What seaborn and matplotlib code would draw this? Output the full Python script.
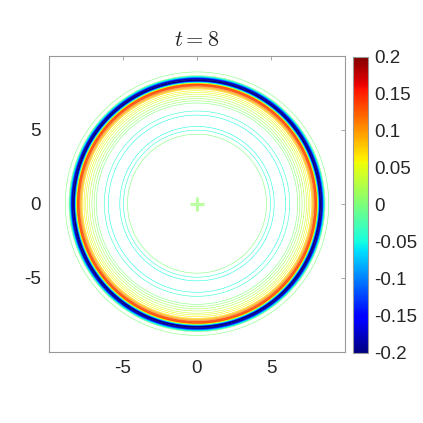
import numpy as np
import matplotlib
matplotlib.use("Agg")
import matplotlib.pyplot as plt
import matplotlib.colors as mcolors
from matplotlib.ticker import FuncFormatter
import seaborn as sns

# ==================================================
# Data: radial profile of the wave at t = 8
# ==================================================
r_prof = [0.0, 4.4, 4.7, 5.0, 5.3, 5.6, 5.9, 6.2, 6.5, 6.8,
          7.1, 7.4, 7.75, 7.95, 8.0, 8.06, 8.32, 8.44, 8.54, 8.65, 8.8, 8.95, 15.0]
v_prof = [0.003, 0.003, 0.0, -0.045, -0.052, -0.053, -0.052, -0.045, -0.02, 0.0,
          0.02, 0.04, 0.07, 0.12, 0.15, 0.13, -0.26, -0.2, -0.1, 0.004, 0.004, -0.002, -0.002]
center_x = [0.0]
center_y = [0.0]
t_value = 8
cbar_ticks = [-0.2, -0.15, -0.1, -0.05, 0, 0.05, 0.1, 0.15, 0.2]
axis_ticks = [-5, 0, 5]

sns.set_style("white")
plt.rcParams['font.family'] = ['Liberation Sans', 'DejaVu Sans']
plt.rcParams['mathtext.fontset'] = 'cm'
plt.rcParams['axes.unicode_minus'] = False

# grid the radial profile
x = np.linspace(-10, 10, 1201)
X, Y = np.meshgrid(x, x)
R = np.sqrt(X**2 + Y**2)
Z = np.interp(R, r_prof, v_prof)

cmap = plt.get_cmap("jet")
norm = mcolors.Normalize(vmin=-0.2, vmax=0.2)
# contour levels: every 0.01, no lines between -0.04 and 0
levels = np.concatenate([np.linspace(-0.25, -0.04, 22), np.linspace(0, 0.2, 21)])

fig = plt.figure(figsize=(4.23, 4.23), dpi=100)
ax = fig.add_axes([0.1158, 0.1686, 0.6998, 0.6998])
cax = fig.add_axes([0.835, 0.1655, 0.0355, 0.7005])

ax.contour(X, Y, Z, levels=levels, cmap=cmap, norm=norm, linewidths=0.38)
ax.plot(center_x, center_y, marker='+', markersize=10, mew=2.2,
        color=cmap(norm(0.01)), alpha=0.6, linestyle='none')

ax.set_xlim(-10, 10)
ax.set_ylim(-10, 10)
ax.set_aspect('equal')
ax.set_xticks(axis_ticks)
ax.set_yticks(axis_ticks)
ax.tick_params(direction='in', length=3, width=0.6, color='#999999',
               labelsize=13.5, pad=6, top=True, right=True,
               labeltop=False, labelright=False)
for s in ax.spines.values():
    s.set_color('#999999')
    s.set_linewidth(0.8)
ax.set_title(rf'$t = {t_value}$', fontsize=16, pad=7)

sm = plt.cm.ScalarMappable(norm=norm, cmap=cmap)
cb = fig.colorbar(sm, cax=cax, ticks=cbar_ticks)
cb.ax.yaxis.set_major_formatter(FuncFormatter(lambda v, p: f"{v:g}"))
cb.ax.tick_params(length=0, labelsize=13.5, pad=4)
cb.outline.set_edgecolor('#999999')
cb.outline.set_linewidth(0.8)

fig.savefig("out.png", dpi=100)
